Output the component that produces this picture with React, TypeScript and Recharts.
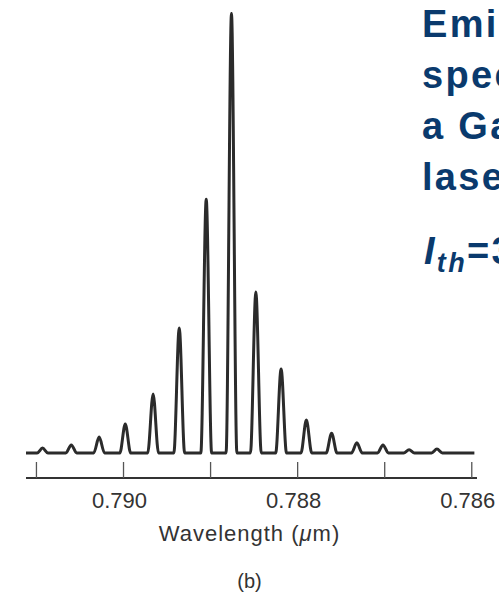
import { LineChart, Line, XAxis, YAxis, Label } from "recharts";

// longitudinal modes: wavelength (μm) and relative intensity (strongest = 100)
const modeWavelengths = [
  0.79093, 0.7906, 0.79028, 0.78998, 0.78966, 0.78936, 0.78905, 0.78876,
  0.78848, 0.78819, 0.7879, 0.78761, 0.78732, 0.78702, 0.78672, 0.7864,
];
const modeIntensities = [
  1.1, 1.8, 3.6, 6.6, 13.4, 28.4, 57.7, 100, 36.6, 19.1, 7.5, 4.5, 2.3, 1.8,
  0.7, 0.9,
];
// ends of the recorded trace and the half width of a mode at its foot (μm)
const traceStart = 0.79112;
const traceEnd = 0.78597;
const modeHalfWidth = 0.000062;

const wavelengthTicks = [0.791, 0.79, 0.789, 0.788, 0.787, 0.786];
const labelledTicks = [0.79, 0.788, 0.786];

const titleLines = ["Emission", "spectrum of", "a GaAs", "laser"];

const trace: { wl: number; intensity: number }[] = [
  { wl: traceStart, intensity: 0 },
];
modeWavelengths.forEach((wl, i) => {
  trace.push({ wl: wl + modeHalfWidth, intensity: 0 });
  trace.push({ wl, intensity: modeIntensities[i] });
  trace.push({ wl: wl - modeHalfWidth, intensity: 0 });
});
trace.push({ wl: traceEnd, intensity: 0 });

const FONT = "'Liberation Sans', Arial, Helvetica, sans-serif";
const INK = "#333";
const TITLE = "#0a3a6d";

function WavelengthTick(props: any) {
  const { x, y, payload } = props;
  const v = payload.value as number;
  const labelled = labelledTicks.some((t) => Math.abs(t - v) < 1e-9);
  return (
    <g>
      <line x1={x} x2={x} y1={y} y2={y - 16} stroke="#555" strokeWidth={1.3} />
      {labelled && (
        <text
          x={x - 4}
          y={y + 30}
          textAnchor="middle"
          fontFamily={FONT}
          fontSize={22}
          fill={INK}
        >
          {v.toFixed(3)}
        </text>
      )}
    </g>
  );
}

function AxisTitle(props: any) {
  const { viewBox } = props;
  const cx = viewBox.x + viewBox.width / 2 - 2;
  return (
    <g fontFamily={FONT} fill={INK} textAnchor="middle">
      <text x={cx} y={viewBox.y + 63} fontSize={22} letterSpacing={1}>
        Wavelength (<tspan fontStyle="italic">μ</tspan>m)
      </text>
      <text x={cx} y={viewBox.y + 110} fontSize={20}>
        (b)
      </text>
    </g>
  );
}

export default function App() {
  return (
    <div
      style={{
        position: "absolute",
        left: 0,
        top: 0,
        width: 499,
        height: 603,
        overflow: "hidden",
        background: "#fff",
      }}
    >
      <LineChart
        width={499}
        height={603}
        data={trace}
        margin={{ top: 12, right: 22, bottom: 0, left: 26 }}
      >
        <XAxis
          dataKey="wl"
          type="number"
          domain={[0.78594, 0.79112]}
          reversed
          allowDataOverflow
          ticks={wavelengthTicks}
          interval={0}
          tickLine={false}
          tickSize={0}
          tickMargin={0}
          tick={<WavelengthTick />}
          axisLine={{ stroke: "#333", strokeWidth: 2 }}
          height={125}
        >
          <Label content={<AxisTitle />} />
        </XAxis>
        <YAxis hide type="number" domain={[-5.7, 100.3]} allowDataOverflow />
        <Line
          dataKey="intensity"
          type="monotone"
          stroke="#2b2b2b"
          strokeWidth={3}
          strokeLinejoin="round"
          dot={false}
          isAnimationActive={false}
        />
      </LineChart>
      <svg
        width={499}
        height={603}
        style={{ position: "absolute", left: 0, top: 0, pointerEvents: "none" }}
      >
        <g
          fontFamily={FONT}
          fontWeight="bold"
          fontSize={38}
          fill={TITLE}
          letterSpacing={2.3}
        >
          {titleLines.map((line, i) => (
            <text key={line} x={422} y={37 + i * 51}>
              {line}
            </text>
          ))}
          <text x={424} y={264}>
            <tspan fontStyle="italic">I</tspan>
            <tspan fontStyle="italic" fontSize={27} dy={8}>
              th
            </tspan>
            <tspan dy={-8}>=3</tspan>
          </text>
        </g>
      </svg>
    </div>
  );
}
